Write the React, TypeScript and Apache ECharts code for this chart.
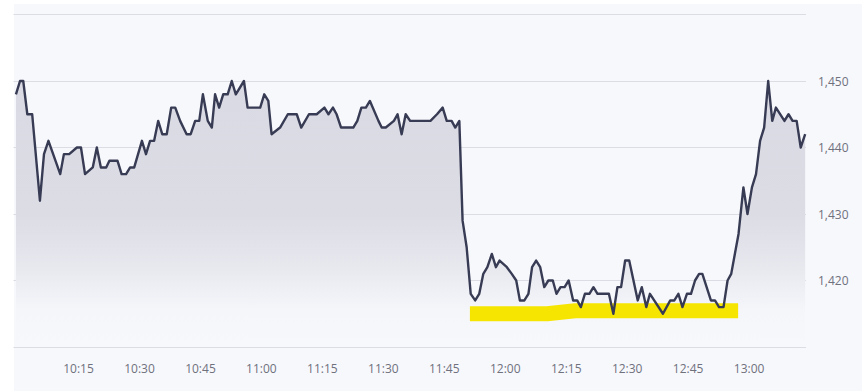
import { useEffect, useRef } from "react";
import * as echarts from "echarts";

// Minutes after 10:00 of each plotted sample
const minutes = [
  -0.4, 0.6, 1.4, 2.4, 3.6, 5.5, 6.5, 7.6, 10.5, 11.4, 12.7, 14.6, 15.6, 16.6, 18.5, 19.5,
  20.5, 21.8, 22.6, 24.6, 25.6, 26.7, 27.7, 28.7, 30.6, 31.6, 32.6, 33.6, 34.6, 35.6, 36.7,
  37.8, 38.8, 40.0, 41.6, 42.6, 43.7, 44.7, 45.6, 46.8, 47.8, 48.6, 49.6, 50.6, 51.7, 52.7,
  53.7, 55.7, 56.6, 59.7, 60.7, 61.7, 62.5, 64.6, 66.5, 68.7, 69.8, 71.7, 73.6, 75.5, 76.5,
  77.6, 78.5, 79.6, 82.6, 83.6, 84.6, 85.7, 86.7, 88.8, 89.6, 90.6, 92.6, 93.5, 94.5, 95.5,
  96.6, 101.6, 103.2, 104.6, 105.6, 106.8, 107.7, 108.7, 109.5, 110.5, 111.5, 112.6, 113.6,
  114.6, 115.6, 116.7, 117.7, 118.6, 120.4, 121.6, 122.7, 123.6, 124.7, 125.7, 126.6, 127.6,
  128.6, 129.6, 130.6, 131.7, 132.6, 133.6, 134.6, 135.6, 136.7, 137.7, 138.6, 139.6, 140.7,
  141.7, 142.7, 145.5, 146.6, 147.6, 148.5, 149.5, 150.5, 152.6, 153.6, 154.7, 155.6, 158.8,
  160.6, 161.6, 162.6, 163.6, 164.7, 165.7, 166.7, 167.7, 168.5, 170.6, 171.6, 172.6, 173.7,
  174.7, 175.6, 177.4, 178.6, 179.6, 180.7, 181.7, 182.7, 183.7, 184.7, 185.7, 186.6, 188.7,
  189.7, 190.7, 191.7, 192.7, 193.8,
];

const prices = [
  1448, 1450, 1450, 1445, 1445, 1432, 1439, 1441, 1436, 1439, 1439, 1440, 1440, 1436, 1437, 1440,
  1437, 1437, 1438, 1438, 1436, 1436, 1437, 1437, 1441, 1439, 1441, 1441, 1444, 1442, 1442,
  1446, 1446, 1444, 1442, 1442, 1444, 1444, 1448, 1444, 1443, 1448, 1446, 1448, 1448, 1450,
  1448, 1450, 1446, 1446, 1448, 1447, 1442, 1443, 1445, 1445, 1443, 1445, 1445, 1446, 1445,
  1446, 1445, 1443, 1443, 1444, 1446, 1446, 1447, 1444, 1443, 1443, 1444, 1445, 1442, 1445,
  1444, 1444, 1445, 1446, 1444, 1444, 1443, 1444, 1429, 1425, 1418, 1417, 1418,
  1421, 1422, 1424, 1422, 1423, 1422, 1421, 1420, 1417, 1417, 1418, 1422, 1423,
  1422, 1419, 1420, 1420, 1418, 1419, 1419, 1420, 1417, 1417, 1416, 1418, 1418,
  1419, 1418, 1418, 1415, 1419, 1419, 1423, 1423, 1417, 1419, 1416, 1418, 1415,
  1417, 1417, 1418, 1416, 1418, 1418, 1420, 1421, 1421, 1417, 1417, 1416, 1416,
  1420, 1421, 1427, 1434, 1430, 1434, 1436, 1441, 1443, 1450, 1444, 1446, 1444,
  1445, 1444, 1444, 1440, 1442,
];

// Yellow highlighter stroke (minutes after 10:00, price level)
const highlightMinutes = [111.3, 130.3, 137.2, 177.3];
const highlightLevels = [1415.0, 1415.0, 1415.45, 1415.45];

const xLabelMinutes = [15, 30, 45, 60, 75, 90, 105, 120, 135, 150, 165, 180];
const yLabelValues = [1420, 1430, 1440, 1450];

const fmtTime = (m: number) => {
  const h = 10 + Math.floor(m / 60);
  const mm = Math.round(m % 60);
  return `${h}:${mm < 10 ? "0" + mm : mm}`;
};

export default function App() {
  const ref = useRef<HTMLDivElement>(null);

  useEffect(() => {
    if (!ref.current) return;
    const chart = echarts.init(ref.current, undefined, { renderer: "svg" });
    const lineData = minutes.map((m, i) => [m, prices[i]]);
    const hlData = highlightMinutes.map((m, i) => [m, highlightLevels[i]]);
    const font = "'Open Sans', 'Noto Sans', sans-serif";

    chart.setOption({
      animation: false,
      backgroundColor: "transparent",
      grid: { left: 13.5, right: 56, top: 14.5, bottom: 44, containLabel: false },
      xAxis: {
        type: "value",
        min: -1,
        max: 194,
        axisLine: { show: false },
        axisTick: { show: false },
        splitLine: { show: false },
        axisLabel: {
          customValues: xLabelMinutes,
          formatter: (v: number) => fmtTime(v),
          color: "#6f717c",
          fontSize: 12,
          fontFamily: font,
          margin: 15,
        },
      },
      yAxis: {
        type: "value",
        position: "right",
        min: 1410,
        max: 1460,
        interval: 10,
        axisLine: { show: false },
        axisTick: { show: false },
        splitLine: { show: true, lineStyle: { color: "#dcdde4", width: 1 } },
        axisLabel: {
          formatter: (v: number) =>
            yLabelValues.includes(v) ? v.toLocaleString("en-US") : "",
          color: "#6f717c",
          fontSize: 12,
          fontFamily: font,
          margin: 12,
        },
      },
      series: [
        {
          type: "line",
          name: "area",
          data: lineData,
          symbol: "none",
          silent: true,
          z: 1,
          lineStyle: { width: 0, opacity: 0 },
          areaStyle: {
            opacity: 1,
            color: new echarts.graphic.LinearGradient(0, 0, 0, 1, [
              { offset: 0, color: "#d9dae3" },
              { offset: 0.5, color: "#dbdce4" },
              { offset: 0.72, color: "#e9eaf0" },
              { offset: 0.86, color: "#f5f6fa" },
              { offset: 1, color: "#f7f8fc" },
            ]),
          },
        },
        {
          type: "line",
          name: "highlight",
          data: hlData,
          symbol: "none",
          silent: true,
          z: 2,
          lineStyle: { color: "#f6e500", width: 15, cap: "butt", join: "round" },
        },
        {
          type: "line",
          name: "price",
          data: lineData,
          symbol: "none",
          silent: true,
          z: 3,
          lineStyle: { color: "#383b54", width: 2.4, join: "round" },
        },
      ],
    });
    return () => chart.dispose();
  }, []);

  return (
    <div style={{ position: "fixed", left: 0, top: 0, width: 862, height: 391, background: "#ffffff" }}>
      <div style={{ position: "absolute", left: 14, top: 4, right: 0, bottom: 0, background: "#f7f8fc" }} />
      <div ref={ref} style={{ position: "absolute", left: 0, top: 0, width: 862, height: 391 }} />
    </div>
  );
}
